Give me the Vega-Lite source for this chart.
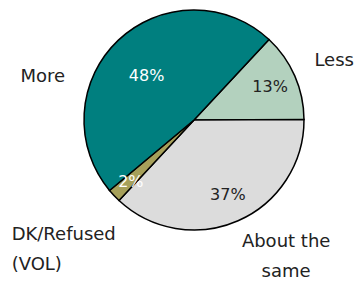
{
  "$schema": "https://vega.github.io/schema/vega-lite/v6.json",
  "width": 326,
  "height": 240,
  "autosize": "none",
  "padding": {"left": 31, "top": 0, "right": 0, "bottom": 42},
  "background": "white",
  "config": {"view": {"stroke": null}, "text": {"font": "DejaVu Sans", "fontSize": 16, "lineBreak": "\n", "lineHeight": 30}},
  "data": {"values": [
    {"k": 1, "answer": "Less", "label": "Less", "pct": 13, "pctText": "13%"},
    {"k": 2, "answer": "About the same", "label": "About the\nsame", "pct": 37, "pctText": "37%"},
    {"k": 3, "answer": "DK/Refused (VOL)", "label": "DK/Refused\n(VOL)", "pct": 2, "pctText": "2%"},
    {"k": 4, "answer": "More", "label": "More", "pct": 48, "pctText": "48%"}
  ]},
  "encoding": {
    "theta": {"field": "pct", "type": "quantitative", "stack": true, "scale": {"range": [0.75, 7.0332]}},
    "order": {"field": "k", "type": "quantitative"}
  },
  "layer": [
    {
      "mark": {"type": "arc", "outerRadius": 110, "stroke": "black", "strokeWidth": 1.5},
      "encoding": {
        "color": {"field": "answer", "type": "nominal", "legend": null,
          "scale": {"domain": ["Less", "About the same", "DK/Refused (VOL)", "More"],
                    "range": ["#b3d1be", "#dcdcdc", "#a6a05a", "#007f7f"]}}
      }
    },
    {
      "mark": {"type": "text", "radius": 66, "color": "white", "dx": -2, "dy": 4},
      "encoding": {"text": {"condition": {"test": "datum.answer === 'More'", "field": "pctText"}, "value": ""}}
    },
    {
      "mark": {"type": "text", "radius": 87, "color": "white", "dy": 2},
      "encoding": {"text": {"condition": {"test": "datum.answer === 'DK/Refused (VOL)'", "field": "pctText"}, "value": ""}}
    },
    {
      "mark": {"type": "text", "radius": 82, "color": "#222222", "dx": 1},
      "encoding": {"text": {"condition": {"test": "datum.answer === 'Less' || datum.answer === 'About the same'", "field": "pctText"}, "value": ""}}
    },
    {
      "mark": {"type": "text", "radius": 153, "color": "#222222", "fontSize": 18, "dy": 2},
      "encoding": {"text": {"condition": {"test": "datum.answer === 'Less'", "field": "label"}, "value": ""}}
    },
    {
      "mark": {"type": "text", "radius": 185, "color": "#222222", "fontSize": 18, "align": "left", "dx": -48, "dy": -12},
      "encoding": {"text": {"condition": {"test": "datum.answer === 'DK/Refused (VOL)'", "field": "label"}, "value": ""}}
    },
    {
      "mark": {"type": "text", "radius": 150, "color": "#222222", "fontSize": 18, "dx": 32, "dy": -15},
      "encoding": {"text": {"condition": {"test": "datum.answer === 'About the same'", "field": "label"}, "value": ""}}
    },
    {
      "mark": {"type": "text", "radius": 150, "color": "#222222", "fontSize": 18, "dx": -48, "dy": 66},
      "encoding": {"text": {"condition": {"test": "datum.answer === 'More'", "field": "label"}, "value": ""}}
    }
  ]
}
